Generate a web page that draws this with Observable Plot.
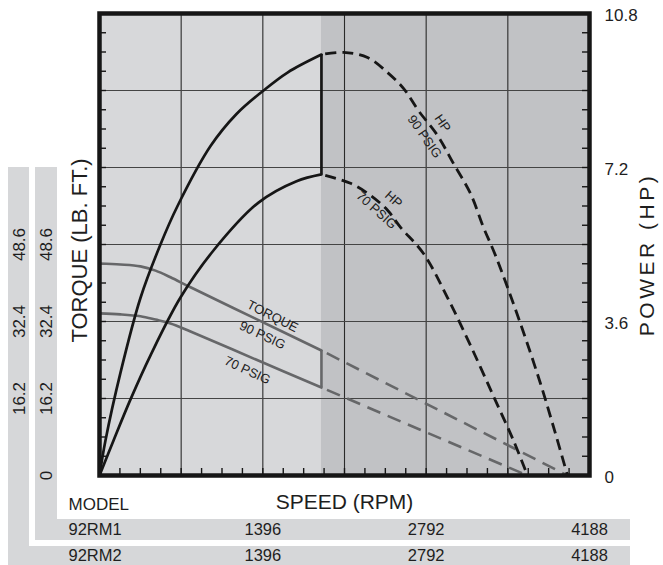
<!DOCTYPE html>
<html><head><meta charset="utf-8">
<script src="https://cdn.jsdelivr.net/npm/d3@7"></script>
<script src="https://cdn.jsdelivr.net/npm/@observablehq/plot@0.6"></script>
<style>
body{margin:0;background:#fff;font-family:"Liberation Sans",Arial,Helvetica,sans-serif}
#wrap{position:relative;width:663px;height:565px;overflow:hidden;background:#fff}
.deco{position:absolute;background:#d6d7d9}
#chart{position:absolute;left:0;top:0}
</style></head><body>
<div id="wrap">
  <div class="deco" style="left:8px;top:167px;width:21px;height:398px"></div>
  <div class="deco" style="left:8px;top:546px;width:622px;height:19px"></div>
  <div class="deco" style="left:35px;top:167px;width:22px;height:373px"></div>
  <div class="deco" style="left:35px;top:519px;width:595px;height:21px"></div>
  <div id="chart"></div>
</div>
<script>
// ---- axis / tick data ----
const speedTicks = [1396, 2792, 4188];
const speedGrid = [698, 1396, 2094, 2792, 3490];
const models = ["92RM1", "92RM2"];
const torqueTicks = [0, 16.2, 32.4, 48.6];
const torqueGrid = [16.2, 32.4, 48.6, 64.8, 81];
const powerTicks = [0, 3.6, 7.2, 10.8];
const SPEED_MAX = 4188, TORQUE_MAX = 97.2, POWER_MAX = 10.8;
const boundaryRPM = 1897;

// ---- series (speed RPM / HP) ----
const hp90SolidRPM = [0, 51, 179, 350, 521, 667, 949, 1171, 1402, 1607, 1897];
const hp90SolidHP  = [0, 0.82, 2.40, 4.15, 5.40, 6.30, 7.70, 8.45, 9.00, 9.42, 9.84];
const hp70SolidRPM = [0, 120, 265, 436, 692, 974, 1359, 1684, 1897];
const hp70SolidHP  = [0, 0.82, 1.78, 2.81, 4.16, 5.26, 6.38, 6.88, 7.04];
const hp90DashRPM = [1897, 2085, 2291, 2462, 2598, 2726, 2889, 3026, 3171, 3282, 3385, 3598, 3769, 3897, 4000];
const hp90DashHP  = [9.84, 9.89, 9.77, 9.42, 9.05, 8.53, 7.95, 7.29, 6.59, 5.80, 5.14, 3.55, 2.15, 0.98, 0];
const hp70DashRPM = [1897, 2145, 2316, 2462, 2573, 2769, 2974, 3171, 3368, 3538, 3658];
const hp70DashHP  = [7.04, 6.83, 6.55, 6.20, 5.80, 5.19, 4.16, 3.04, 1.85, 0.82, 0];

// ---- series (speed RPM / torque LB.FT.) ----
const tq90SolidRPM = [0, 179, 350, 479, 607, 778, 1337, 1897];
const tq90SolidTQ  = [44.6, 44.4, 44.0, 43.1, 41.7, 39.6, 32.95, 26.3];
const tq70SolidRPM = [0, 179, 350, 479, 607, 778, 1337, 1897];
const tq70SolidTQ  = [34.1, 33.9, 33.5, 32.8, 32.0, 30.3, 24.4, 18.5];
const tq90DashRPM = [1897, 4000];
const tq90DashTQ  = [26.3, 0];
const tq70DashRPM = [1897, 3658];
const tq70DashTQ  = [18.5, 0];

// curve annotations
const labels = [
  {rpm: 2932, v: 74.1, text: "HP", rotate: 55},
  {rpm: 2778, v: 71.3, text: "90 PSIG", rotate: 55},
  {rpm: 2513, v: 58.1, text: "HP", rotate: 42},
  {rpm: 2367, v: 55.8, text: "70 PSIG", rotate: 42},
  {rpm: 1479, v: 33.5, text: "TORQUE", rotate: 27},
  {rpm: 1393, v: 29.5, text: "90 PSIG", rotate: 25},
  {rpm: 1265, v: 22.1, text: "70 PSIG", rotate: 25}
];

const k = TORQUE_MAX / POWER_MAX; // power plotted on torque scale
const pts = (xs, ys, f = 1) => xs.map((x, i) => ({x, y: ys[i] * f}));
const minorX = d3.range(1, 24).map(i => i * 698 / 4);
const minorY = d3.range(1, 24).map(i => i * 16.2 / 4);
const W = 663, H = 565, ML = 99, MR = 74, MT = 13, MB = 90;
const tickX = 7 * SPEED_MAX / (W - ML - MR);   // 7px in speed units
const tickY = 7 * TORQUE_MAX / (H - MT - MB);  // 7px in torque units

const BLACK = "#161616", GREY = "#666769", FONT = "Liberation Sans, Arial, Helvetica, sans-serif";
const T = (o) => ({lineAnchor: "middle", fill: "#1e1e1e", ...o});

const plot = Plot.plot({
  width: W, height: H,
  marginLeft: ML, marginRight: MR, marginTop: MT, marginBottom: MB,
  style: {background: "transparent", fontFamily: FONT, overflow: "visible", color: "#1e1e1e"},
  x: {domain: [0, SPEED_MAX], axis: null},
  y: {domain: [0, TORQUE_MAX], axis: null},
  marks: [
    Plot.rect([[0, boundaryRPM]], {x1: d => d[0], x2: d => d[1], fill: "#d7d8da"}),
    Plot.rect([[boundaryRPM, SPEED_MAX]], {x1: d => d[0], x2: d => d[1], fill: "#c1c2c5"}),
    Plot.ruleX(speedGrid, {stroke: "#2a2a2a", strokeWidth: 1.1}),
    Plot.ruleY(torqueGrid, {stroke: "#444", strokeWidth: 1.1}),
    // inward minor ticks
    Plot.ruleY(minorY, {x1: 0, x2: tickX, stroke: BLACK, strokeWidth: 1.4}),
    Plot.ruleY(minorY, {x1: SPEED_MAX - tickX, x2: SPEED_MAX, stroke: BLACK, strokeWidth: 1.4}),
    Plot.ruleX(minorX, {y1: 0, y2: tickY, stroke: BLACK, strokeWidth: 1.4}),

    // torque
    Plot.line(pts(tq90SolidRPM, tq90SolidTQ), {x: "x", y: "y", stroke: GREY, strokeWidth: 2.6, curve: "catmull-rom"}),
    Plot.line(pts(tq70SolidRPM, tq70SolidTQ), {x: "x", y: "y", stroke: GREY, strokeWidth: 2.6, curve: "catmull-rom"}),
    Plot.ruleX([boundaryRPM], {y1: () => tq70SolidTQ[tq70SolidTQ.length - 1], y2: () => tq90SolidTQ[tq90SolidTQ.length - 1], stroke: GREY, strokeWidth: 2.6}),
    Plot.line(pts(tq90DashRPM, tq90DashTQ), {x: "x", y: "y", stroke: GREY, strokeWidth: 2.6, strokeDasharray: "14,8", strokeLinecap: "butt", strokeDashoffset: -6}),
    Plot.line(pts(tq70DashRPM, tq70DashTQ), {x: "x", y: "y", stroke: GREY, strokeWidth: 2.6, strokeDasharray: "14,8", strokeLinecap: "butt", strokeDashoffset: -6}),

    // power
    Plot.line(pts(hp90SolidRPM, hp90SolidHP, k), {x: "x", y: "y", stroke: BLACK, strokeWidth: 2.7, curve: "catmull-rom"}),
    Plot.line(pts(hp70SolidRPM, hp70SolidHP, k), {x: "x", y: "y", stroke: BLACK, strokeWidth: 2.7, curve: "catmull-rom"}),
    Plot.ruleX([boundaryRPM], {y1: () => hp70SolidHP[hp70SolidHP.length - 1] * k, y2: () => hp90SolidHP[hp90SolidHP.length - 1] * k, stroke: BLACK, strokeWidth: 2.7}),
    Plot.line(pts(hp90DashRPM, hp90DashHP, k), {x: "x", y: "y", stroke: BLACK, strokeWidth: 2.8, curve: "catmull-rom", strokeDasharray: "11,6", strokeLinecap: "butt", strokeDashoffset: -4}),
    Plot.line(pts(hp70DashRPM, hp70DashHP, k), {x: "x", y: "y", stroke: BLACK, strokeWidth: 2.8, curve: "catmull-rom", strokeDasharray: "11,6", strokeLinecap: "butt", strokeDashoffset: -4}),

    Plot.text(labels, T({x: "rpm", y: "v", text: "text", rotate: "rotate", fontSize: 13})),

    Plot.frame({stroke: BLACK, strokeWidth: 4.5}),

    // right power labels
    Plot.text(powerTicks, T({y: d => d * k, text: d => String(d), frameAnchor: "right", textAnchor: "start", dx: 15, dy: 2, fontSize: 17})),
    // left torque labels in the model bars
    Plot.text(torqueTicks, T({y: d => d, text: d => String(d), frameAnchor: "left", textAnchor: "middle", dx: -53, rotate: -90, fontSize: 17})),
    Plot.text(torqueTicks.filter(d => d > 0), T({y: d => d, text: d => String(d), frameAnchor: "left", textAnchor: "middle", dx: -80, rotate: -90, fontSize: 17})),

    // axis titles
    Plot.text(["TORQUE (LB. FT.)"], T({text: d => d, frameAnchor: "left", textAnchor: "middle", dx: -20, dy: 6, rotate: -90, fontSize: 22})),
    Plot.text(["POWER (HP)"], T({text: d => d, frameAnchor: "right", textAnchor: "middle", dx: 58, dy: 10, rotate: -90, fontSize: 21})),
    Plot.text(["SPEED (RPM)"], T({text: d => d, frameAnchor: "bottom", textAnchor: "middle", dy: 27, fontSize: 21})),
    Plot.text(["MODEL"], T({text: d => d, frameAnchor: "bottom-left", dx: -31, dy: 29, textAnchor: "start", fontSize: 17})),

    // model rows
    Plot.text([models[0]], T({text: d => d, frameAnchor: "bottom-left", dx: -31, dy: 54, textAnchor: "start", fontSize: 16.5})),
    Plot.text(speedTicks, T({x: d => d, text: d => String(d), frameAnchor: "bottom", textAnchor: "middle", dy: 54, fontSize: 16.5})),
    Plot.text([models[1]], T({text: d => d, frameAnchor: "bottom-left", dx: -31, dy: 80, textAnchor: "start", fontSize: 16.5})),
    Plot.text(speedTicks, T({x: d => d, text: d => String(d), frameAnchor: "bottom", textAnchor: "middle", dy: 80, fontSize: 16.5}))
  ]
});
d3.select(plot).selectAll("text").filter(function () { return this.textContent === "POWER (HP)"; }).style("letter-spacing", "3.5px");
document.getElementById("chart").appendChild(plot);
</script>
</body></html>
